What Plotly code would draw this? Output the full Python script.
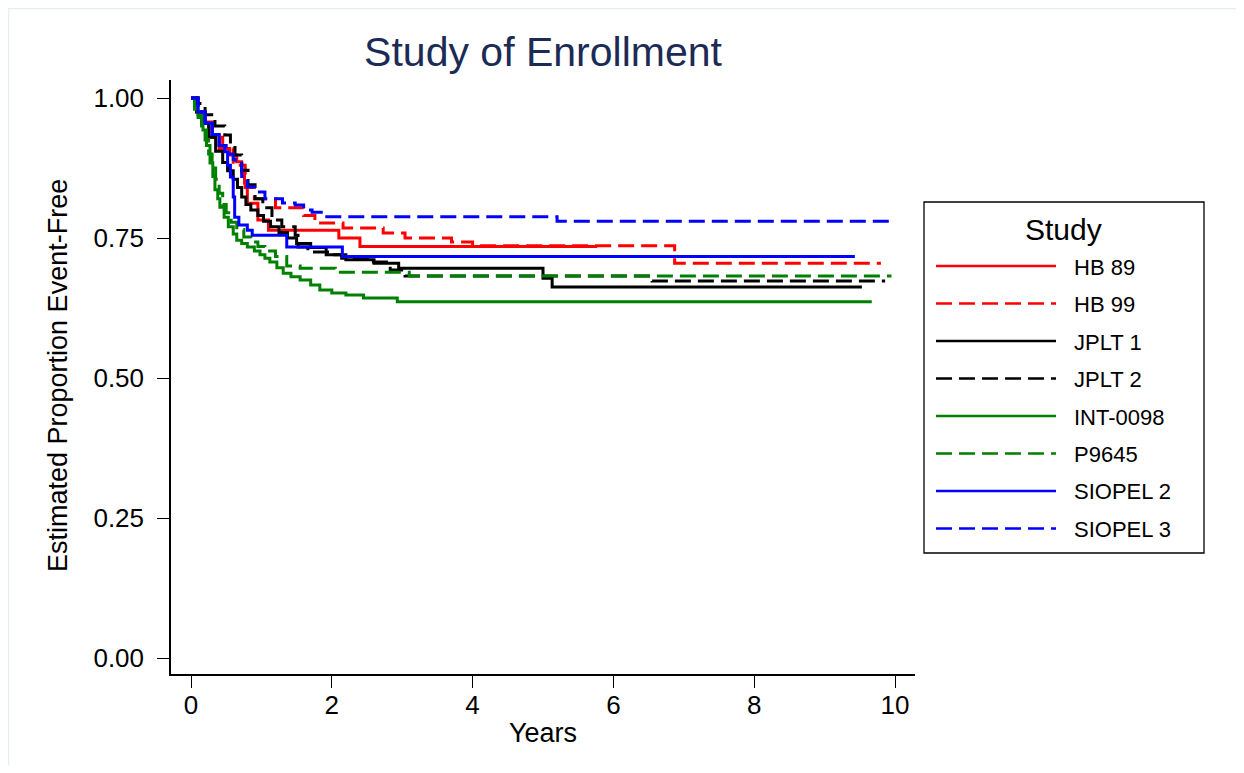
import plotly.graph_objects as go

# ---------------- data ----------------
studies = ["HB 89", "HB 99", "JPLT 1", "JPLT 2", "INT-0098", "P9645", "SIOPEL 2", "SIOPEL 3"]

hb89_t = [0, 0.08, 0.15, 0.3, 0.4, 0.55, 0.65, 0.72, 0.76, 0.8, 0.95, 1.1, 2.1, 2.4, 5.77]
hb89_s = [1, 0.975, 0.957, 0.934, 0.91, 0.898, 0.886, 0.868, 0.848, 0.812, 0.782, 0.764, 0.75, 0.735, 0.735]

hb99_t = [0, 0.1, 0.2, 0.3, 0.45, 0.6, 0.77, 0.9, 1.2, 1.6, 1.76, 2.16, 2.73, 3.04, 3.7, 4.0, 6.87, 9.8]
hb99_s = [1, 0.975, 0.955, 0.93, 0.91, 0.88, 0.84, 0.82, 0.804, 0.79, 0.777, 0.768, 0.759, 0.75, 0.743, 0.736, 0.705, 0.705]

jplt1_t = [0, 0.08, 0.15, 0.25, 0.35, 0.45, 0.52, 0.6, 0.66, 0.72, 0.78, 0.85, 0.95, 1.03, 1.13, 1.25,
           1.37, 1.5, 1.7, 1.92, 2.2, 2.6, 2.95, 5.0, 5.13, 9.53]
jplt1_s = [1, 0.975, 0.955, 0.93, 0.905, 0.885, 0.87, 0.855, 0.84, 0.823, 0.81, 0.8, 0.79, 0.78, 0.77, 0.76,
           0.75, 0.74, 0.733, 0.72, 0.711, 0.705, 0.696, 0.678, 0.6625, 0.6625]

jplt2_t = [0, 0.1, 0.2, 0.34, 0.48, 0.56, 0.625, 0.72, 0.81, 0.91, 1.02, 1.15, 1.29, 1.48, 1.52, 1.66,
           2.0, 2.14, 2.54, 2.83, 3.04, 6.55, 9.86]
jplt2_s = [1, 0.99, 0.97, 0.95, 0.934, 0.915, 0.898, 0.871, 0.845, 0.82, 0.804, 0.782, 0.77, 0.755, 0.734, 0.725,
           0.72, 0.714, 0.707, 0.693, 0.682, 0.673, 0.673]

int0098_t = [0, 0.05, 0.1, 0.17, 0.22, 0.27, 0.31, 0.34, 0.38, 0.41, 0.47, 0.53, 0.6, 0.65, 0.72, 0.8, 0.9,
             0.98, 1.05, 1.12, 1.22, 1.31, 1.42, 1.55, 1.7, 1.83, 2.0, 2.2, 2.45, 2.93, 9.67]
int0098_s = [1, 0.98, 0.965, 0.943, 0.915, 0.884, 0.86, 0.836, 0.82, 0.805, 0.787, 0.77, 0.757, 0.746, 0.74,
             0.734, 0.727, 0.72, 0.714, 0.707, 0.697, 0.687, 0.681, 0.675, 0.666, 0.657, 0.652, 0.648, 0.643,
             0.636, 0.636]

p9645_t = [0, 0.05, 0.1, 0.15, 0.2, 0.25, 0.3, 0.35, 0.4, 0.45, 0.5, 0.57, 0.65, 0.75, 0.85, 0.95, 1.05,
           1.2, 1.36, 1.55, 2.05, 3.1, 9.95]
p9645_s = [1, 0.985, 0.97, 0.95, 0.925, 0.9, 0.875, 0.855, 0.83, 0.81, 0.795, 0.778, 0.765, 0.752, 0.743,
           0.735, 0.727, 0.717, 0.70, 0.696, 0.689, 0.682, 0.682]

siopel2_t = [0, 0.1, 0.2, 0.3, 0.4, 0.48, 0.52, 0.56, 0.6, 0.62, 0.68, 0.8, 0.87, 1.36, 2.15, 9.43]
siopel2_s = [1, 0.975, 0.955, 0.935, 0.915, 0.904, 0.88, 0.859, 0.823, 0.787, 0.773, 0.764, 0.755, 0.734,
             0.717, 0.717]

siopel3_t = [0, 0.1, 0.2, 0.3, 0.4, 0.5, 0.6, 0.63, 0.72, 0.8, 0.95, 1.05, 1.3, 1.48, 1.6, 1.72, 1.9, 5.2, 10.0]
siopel3_s = [1, 0.975, 0.955, 0.935, 0.915, 0.9, 0.89, 0.884, 0.86, 0.841, 0.832, 0.82, 0.8125, 0.809, 0.80,
             0.796, 0.788, 0.78, 0.78]

x_ticks = [0, 2, 4, 6, 8, 10]
y_ticks = [0, 0.25, 0.5, 0.75, 1.0]

# ---------------- styles ----------------
series = [
    (hb89_t, hb89_s), (hb99_t, hb99_s), (jplt1_t, jplt1_s), (jplt2_t, jplt2_s),
    (int0098_t, int0098_s), (p9645_t, p9645_s), (siopel2_t, siopel2_s), (siopel3_t, siopel3_s),
]
colors = ["#ff0000", "#ff0000", "#000000", "#000000", "#008000", "#008000", "#0000ff", "#0000ff"]
DASH = "16px,7px"
dashes = ["solid", DASH, "solid", DASH, "solid", DASH, "solid", DASH]

FONT = "Liberation Sans, Arial, Helvetica, sans-serif"
OFF = 8                      # page body margin of the html page
W, H = 1228, 757
# plot area in screen pixels of the reference
SL, SR, ST, SB = 171, 915, 80, 674
L, R, T, B = SL - OFF, SR - OFF, ST - OFF, SB - OFF


def pxx(x):
    """screen x of the reference -> paper x"""
    return (x - OFF - L) / (R - L)


def pxy(y):
    """screen y of the reference -> paper y"""
    return (B - (y - OFF)) / (B - T)


fig = go.Figure()
for name, (t, s), c, d in zip(studies, series, colors, dashes):
    fig.add_trace(go.Scatter(
        x=t, y=s, mode="lines", name=name, line=dict(color=c, width=3, dash=d, shape="hv"),
        showlegend=False,
    ))

# ---------------- custom legend (drawn in paper coordinates) ----------------
shapes = []
annotations = []
shapes.append(dict(type="rect", xref="paper", yref="paper",
                   x0=pxx(924), x1=pxx(1204), y0=pxy(553), y1=pxy(202),
                   line=dict(color="#000000", width=1.3), fillcolor="white", layer="above"))
annotations.append(dict(text="Study", xref="paper", yref="paper", x=pxx(1063), y=pxy(229),
                        xanchor="center", yanchor="middle", showarrow=False,
                        font=dict(family=FONT, size=30, color="#000000")))
entry_y = [266, 303.5, 341, 378.5, 416, 453.5, 491, 528.5]
for name, c, d, ey in zip(studies, colors, dashes, entry_y):
    shapes.append(dict(type="line", xref="paper", yref="paper",
                       x0=pxx(936), x1=pxx(1056), y0=pxy(ey), y1=pxy(ey),
                       line=dict(color=c, width=2.5, dash=d), layer="above"))
    annotations.append(dict(text=name, xref="paper", yref="paper", x=pxx(1072), y=pxy(ey + 1),
                            xanchor="left", yanchor="middle", showarrow=False,
                            font=dict(family=FONT, size=22, color="#000000")))

# faint outer frame of the original picture
shapes.append(dict(type="line", xref="paper", yref="paper", x0=pxx(8), x1=pxx(1250), y0=pxy(8.5), y1=pxy(8.5),
                   line=dict(color="#e4eef0", width=1.5)))
shapes.append(dict(type="line", xref="paper", yref="paper", x0=pxx(8.5), x1=pxx(8.5), y0=pxy(8), y1=pxy(780),
                   line=dict(color="#e4eef0", width=1.5)))

# axis titles
annotations.append(dict(text="Years", xref="paper", yref="paper", x=pxx(543), y=pxy(733),
                        xanchor="center", yanchor="middle", showarrow=False,
                        font=dict(family=FONT, size=27, color="#000000")))
annotations.append(dict(text="Estimated Proportion Event-Free", xref="paper", yref="paper",
                        x=pxx(58), y=pxy(376), xanchor="center", yanchor="middle", textangle=-90,
                        showarrow=False, font=dict(family=FONT, size=27, color="#000000")))

x0 = (SL - 191) / 70.4
x1 = (SR - 191) / 70.4
y0 = -(SB - 658) / 560
y1 = (658 - ST) / 560

fig.update_layout(
    width=W, height=H,
    margin=dict(l=L, r=W - R, t=T, b=H - B, pad=0),
    paper_bgcolor="white", plot_bgcolor="white",
    title=dict(text="Study of Enrollment", x=(543 - OFF) / W, xanchor="center", xref="container",
               y=1 - (52 - OFF) / H, yanchor="middle", yref="container",
               font=dict(family=FONT, size=41, color="#1c2b55")),
    font=dict(family=FONT, color="#000000"),
    shapes=shapes, annotations=annotations,
    xaxis=dict(range=[x0, x1], tickvals=x_ticks, ticktext=[str(v) for v in x_ticks],
               showgrid=False, zeroline=False, showline=True, linecolor="#000000", linewidth=1.5,
               ticks="outside", ticklen=12, tickwidth=1.3, tickcolor="#000000",
               tickfont=dict(family=FONT, size=26, color="#000000"), ticklabelstandoff=-5),
    yaxis=dict(range=[y0, y1], tickvals=y_ticks, ticktext=[f"{v:.2f}" for v in y_ticks],
               showgrid=False, zeroline=False, showline=True, linecolor="#000000", linewidth=1.5,
               ticks="outside", ticklen=12, tickwidth=1.3, tickcolor="#000000",
               tickfont=dict(family=FONT, size=26, color="#000000"), ticklabelstandoff=8),
)

fig.write_html("out.html")
